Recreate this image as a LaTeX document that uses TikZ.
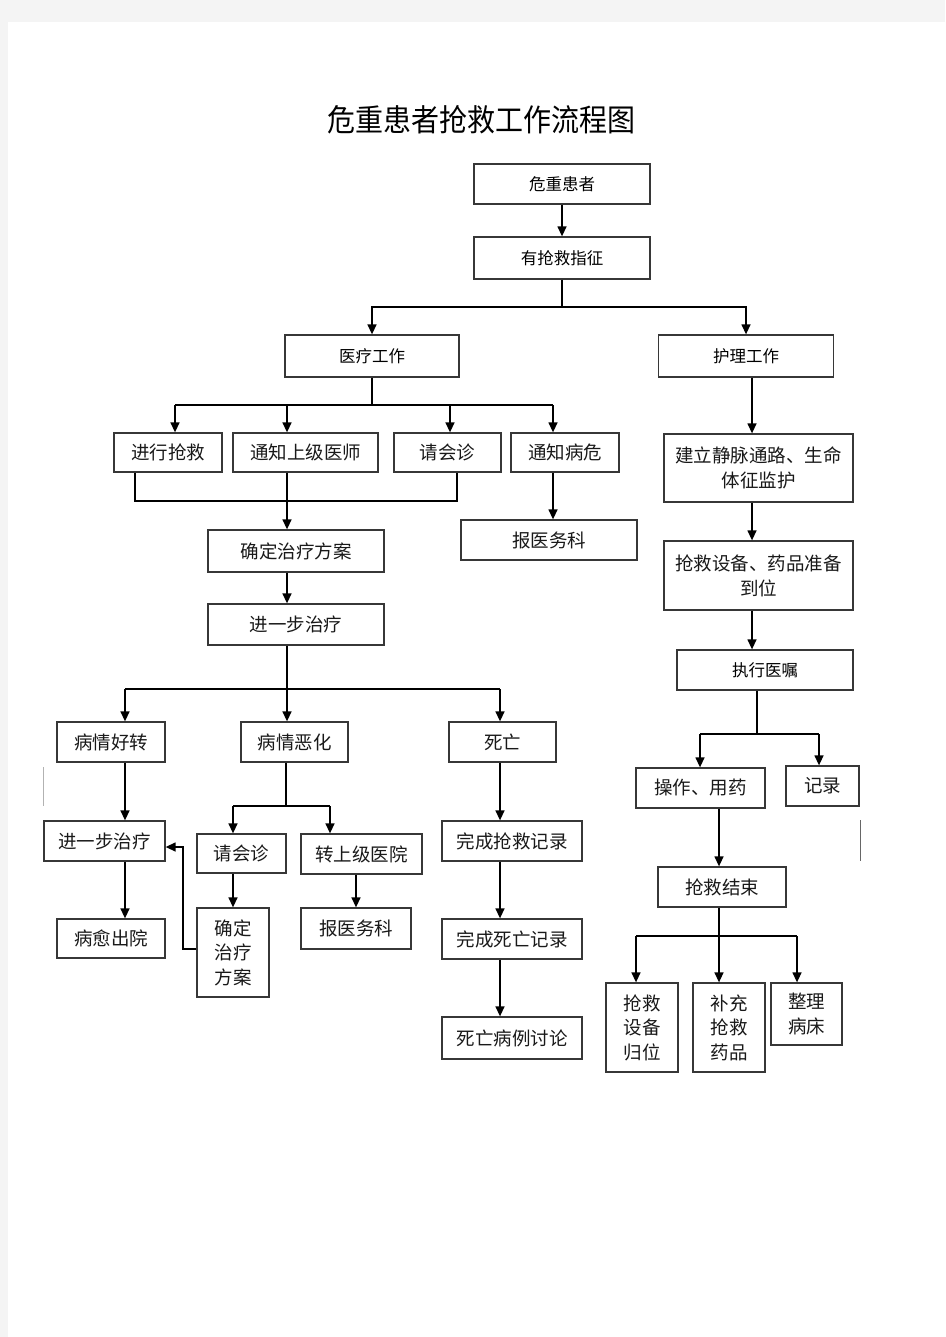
\documentclass[tikz,border=0pt]{standalone}
\usepackage{fontspec}
\newfontfamily\cjk{Noto Sans CJK SC}
\usetikzlibrary{arrows.meta}
\definecolor{pagegrey}{RGB}{244,244,244}
\definecolor{boxline}{RGB}{55,55,55}
\begin{document}
\begin{tikzpicture}[x=1pt,y=-1pt,
  box/.style={draw=boxline, line width=1.3pt, inner sep=0pt, align=center, text=black!90,
              font=\cjk\fontsize{18.5}{25}\selectfont},
  sbox/.style={box, text=black, font=\cjk\fontsize{16.5}{22}\selectfont},
  wh/.style 2 args={minimum width=#1pt, minimum height=#2pt},
  conn/.style={line width=1.4pt, black},
  arr/.style={conn, -{Triangle[length=10pt,width=9pt]}}]
\useasboundingbox (0,0) rectangle (945,1337);
\fill[pagegrey] (0,0) rectangle (945,1337);
\fill[white] (8,22) rectangle (945,1337);

% title
\node[font=\cjk\fontsize{28}{30}\selectfont, yscale=1.1] (title) at (481.5,120) {危重患者抢救工作流程图};

% top
\node[sbox, wh={176}{40}] (wz) at (562,184) {危重患者};
\node[sbox, wh={176}{42}] (yq) at (562,258) {有抢救指征};
\node[sbox, wh={174}{42}] (yl) at (372,356) {医疗工作};
\node[sbox, wh={175}{42}] (hl) at (746,356) {护理工作};

% medical row 2
\node[box, wh={108}{39}] (jx) at (168,452.5) {进行抢救};
\node[box, wh={145}{39}] (tz) at (305.5,452.5) {通知上级医师};
\node[box, wh={107}{39}] (qh) at (447.5,452.5) {请会诊};
\node[box, wh={108}{39}] (tb) at (565,452.5) {通知病危};
\node[box, wh={176}{42}] (qd) at (296,551) {确定治疗方案};
\node[box, wh={176}{40}] (by) at (549,540) {报医务科};
\node[box, wh={176}{41}] (jy) at (296,624.5) {进一步治疗};

% outcomes
\node[box, wh={108}{40}] (hz) at (111,742) {病情好转};
\node[box, wh={107}{40}] (eh) at (294.5,742) {病情恶化};
\node[box, wh={107}{40}] (sw) at (502.5,742) {死亡};
\node[box, wh={121}{40}] (jy2) at (104.5,841) {进一步治疗};
\node[box, wh={108}{39}] (cy) at (111,938.5) {病愈出院};
\node[box, wh={89}{39}] (qh2) at (241.5,853.5) {请会诊};
\node[box, wh={121}{40}] (zs) at (361.5,854) {转上级医院};
\node[box, wh={72}{89}, font=\cjk\fontsize{18.5}{24.5}\selectfont] (qd2) at (233,952.5) {确定\\治疗\\方案};
\node[box, wh={110}{41}] (by2) at (356,928.5) {报医务科};
\node[box, wh={140}{40}] (wq) at (512,841) {完成抢救记录};
\node[box, wh={140}{40}] (ws) at (512,939) {完成死亡记录};
\node[box, wh={140}{42}] (tl) at (512,1038) {死亡病例讨论};

% nursing
\node[box, wh={189}{68}] (jl) at (758.5,468) {建立静脉通路、生命\\体征监护};
\node[box, wh={189}{69}] (qs) at (758.5,575.5) {抢救设备、药品准备\\到位};
\node[sbox, wh={176}{40}] (zx) at (765,670) {执行医嘱};
\node[box, wh={129}{40}] (cz) at (700.5,788) {操作、用药};
\node[box, wh={73}{40}] (jlu) at (822.5,786) {记录};
\node[box, wh={128}{40}] (js) at (722,887) {抢救结束};
\node[box, wh={72}{89}, font=\cjk\fontsize{18.5}{24.5}\selectfont] (gw) at (642,1027.5) {抢救\\设备\\归位};
\node[box, wh={72}{89}, font=\cjk\fontsize{18.5}{24.5}\selectfont] (bc) at (729,1027.5) {补充\\抢救\\药品};
\node[box, wh={71}{62}, font=\cjk\fontsize{18.5}{24.5}\selectfont] (zl) at (806.5,1014) {整理\\病床};

% connectors top
\draw[arr] (wz) -- (yq);
\coordinate (s1) at (562,307);
\draw[conn] (yq.south) -- (s1);
\draw[arr] (s1) -| (yl.north);
\draw[arr] (s1) -| (hl.north);

% medical split
\coordinate (s2) at (372,405);
\coordinate (s2a) at (175,405);
\coordinate (s2b) at (287,405);
\coordinate (s2c) at (450,405);
\coordinate (s2d) at (553,405);
\draw[conn] (yl.south) -- (s2);
\draw[conn] (s2a) -- (s2d);
\draw[arr] (s2a) -- (s2a |- jx.north);
\draw[arr] (s2b) -- (s2b |- tz.north);
\draw[arr] (s2c) -- (s2c |- qh.north);
\draw[arr] (s2d) -- (s2d |- tb.north);

% merge
\coordinate (m1) at (135,501);
\coordinate (m2) at (457,501);
\draw[conn] (m1 |- jx.south) -- (m1) -- (m2) -- (m2 |- qh.south);
\draw[arr] (s2b |- tz.south) -- (s2b |- qd.north);
\draw[arr] (s2d |- tb.south) -- (s2d |- by.north);
\draw[arr] (s2b |- qd.south) -- (s2b |- jy.north);

% outcome split
\coordinate (s3) at (287,689);
\coordinate (s3a) at (125,689);
\coordinate (s3c) at (500,689);
\draw[conn] (s2b |- jy.south) -- (s3);
\draw[conn] (s3a) -- (s3c);
\draw[arr] (s3a) -- (s3a |- hz.north);
\draw[arr] (s3) -- (s3 |- eh.north);
\draw[arr] (s3c) -- (s3c |- sw.north);

\draw[arr] (s3a |- hz.south) -- (s3a |- jy2.north);
\draw[arr] (s3a |- jy2.south) -- (s3a |- cy.north);

\coordinate (s4) at (286,806);
\coordinate (s4a) at (233,806);
\coordinate (s4b) at (330,806);
\draw[conn] (s4 |- eh.south) -- (s4);
\draw[conn] (s4a) -- (s4b);
\draw[arr] (s4a) -- (s4a |- qh2.north);
\draw[arr] (s4b) -- (s4b |- zs.north);
\draw[arr] (s4a |- qh2.south) -- (s4a |- qd2.north);
\draw[arr] (by2.north |- zs.south) -- (by2.north);

\coordinate (f1) at (183,949);
\coordinate (f2) at (183,847);
\draw[arr] (qd2.west |- f1) -- (f1) -- (f2) -- (f2 -| jy2.east);

\draw[arr] (s3c |- sw.south) -- (s3c |- wq.north);
\draw[arr] (s3c |- wq.south) -- (s3c |- ws.north);
\draw[arr] (s3c |- ws.south) -- (s3c |- tl.north);

% nursing connectors
\coordinate (r1) at (752,377);
\draw[arr] (r1 |- hl.south) -- (r1 |- jl.north);
\draw[arr] (r1 |- jl.south) -- (r1 |- qs.north);
\draw[arr] (r1 |- qs.south) -- (r1 |- zx.north);

\coordinate (s5) at (757,734);
\coordinate (s5a) at (700,734);
\coordinate (s5b) at (819,734);
\draw[conn] (s5 |- zx.south) -- (s5);
\draw[conn] (s5a) -- (s5b);
\draw[arr] (s5a) -- (s5a |- cz.north);
\draw[arr] (s5b) -- (s5b |- jlu.north);

\coordinate (r2) at (719,808);
\draw[arr] (r2 |- cz.south) -- (r2 |- js.north);

\coordinate (s6) at (719,936);
\coordinate (s6a) at (636,936);
\coordinate (s6b) at (797,936);
\draw[conn] (s6 |- js.south) -- (s6);
\draw[conn] (s6a) -- (s6b);
\draw[arr] (s6a) -- (s6a |- gw.north);
\draw[arr] (s6) -- (s6 |- bc.north);
\draw[arr] (s6b) -- (s6b |- zl.north);

% stray marks
\draw[black!30, line width=0.8pt] (43,767) -- (43,806);
\draw[black!60, line width=1pt] (860,820) -- (860,861);
\end{tikzpicture}
\end{document}
